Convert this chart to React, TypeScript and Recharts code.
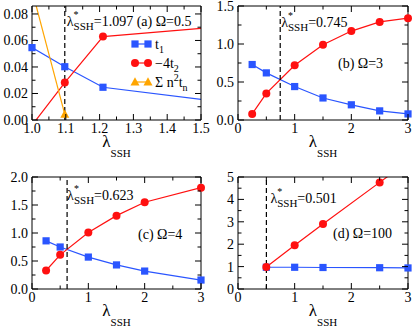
import React from 'react';
import { ComposedChart, Line, Scatter, XAxis, YAxis, ReferenceLine, Legend } from 'recharts';

const SERIF = "'Liberation Serif', 'Times New Roman', Times, serif";
const TXT = { fontFamily: SERIF };
const BLUE = '#2a55ff';
const RED = '#ff1010';
const ORANGE = '#ffa500';

// (a) Omega = 0.5
const aLam = [1.0, 1.097, 1.21, 2.0];
const aT1 = [0.0546, 0.0402, 0.0247, 0.0];
const aM4T2 = [-0.004, 0.0282, 0.0629, 0.08];
const aSumLam = [1.0, 1.097];
const aSum = [0.098, 0.0043];

// (b) Omega = 3
const bLam = [0.25, 0.5, 1, 1.5, 2, 2.5, 3];
const bT1 = [0.73, 0.62, 0.44, 0.29, 0.2, 0.12, 0.08];
const bM4T2 = [0.08, 0.35, 0.72, 0.99, 1.17, 1.29, 1.34];

// (c) Omega = 4
const cLam = [0.25, 0.5, 1, 1.5, 2, 3];
const cT1 = [0.86, 0.75, 0.57, 0.43, 0.32, 0.16];
const cM4T2 = [0.33, 0.61, 1.01, 1.31, 1.55, 1.81];

// (d) Omega = 100
const dLam = [0.5, 1, 1.5, 2.5, 3];
const dT1 = [0.97, 0.97, 0.96, 0.95, 0.94];
const dM4T2 = [0.98, 1.95, 2.9, 4.76, 5.69];

const lamStar = [1.097, 0.745, 0.623, 0.501];
const panelTags = ['(a)', '(b)', '(c)', '(d)'];
const omegas = ['0.5', '3', '4', '100'];

// ticks
const aXMajor = [1.0, 1.1, 1.2, 1.3, 1.4, 1.5];
const aXLabels = ['1.0', '1.1', '1.2', '1.3', '1.4', '1.5'];
const aXMinor = [1.05, 1.15, 1.25, 1.35, 1.45];
const aYMajor = [0, 0.02, 0.04, 0.06, 0.08];
const aYLabels = ['0.00', '0.02', '0.04', '0.06', '0.08'];
const aYMinor = [0.01, 0.03, 0.05, 0.07];
const lamMajor = [0, 1, 2, 3];
const lamLabels = ['0', '1', '2', '3'];
const lamMinor = [0.5, 1.5, 2.5];
const bYMajor = [0, 0.5, 1, 1.5];
const bYLabels = ['0.0', '0.5', '1.0', '1.5'];
const bYMinor = [0.25, 0.75, 1.25];
const cYMajor = [0, 0.5, 1, 1.5, 2];
const cYLabels = ['0.0', '0.5', '1.0', '1.5', '2.0'];
const cYMinor = [0.25, 0.75, 1.25, 1.75];
const dYMajor = [0, 1, 2, 3, 4, 5];
const dYLabels = ['0', '1', '2', '3', '4', '5'];
const dYMinor = [0.5, 1.5, 2.5, 3.5, 4.5];

type Mark = 'square' | 'circle' | 'triangle';
interface Series { name: string; xs: number[]; ys: number[]; color: string; mark: Mark }
interface Ax { domain: [number, number]; major: number[]; labels: string[]; minor: number[] }

const AXIS_LINE = { stroke: '#000', strokeWidth: 1 };
const legendOrder = ['t1', 'm4t2', 'sum'];

function markShape(mark: Mark, color: string, cx: number, cy: number) {
  if (mark === 'square') return <rect x={cx - 3.6} y={cy - 3.6} width={7.2} height={7.2} fill={color} />;
  if (mark === 'circle') return <circle cx={cx} cy={cy} r={4} fill={color} />;
  return <polygon points={`${cx},${cy - 4.8} ${cx - 4.5},${cy + 3.4} ${cx + 4.5},${cy + 3.4}`} fill={color} />;
}

function tickRenderer(side: string, ax: Ax, withLabels: boolean) {
  return (p: any) => {
    const v = p.payload.value;
    const i = ax.major.findIndex((m) => Math.abs(m - v) < 1e-9);
    const len = i >= 0 ? 6 : 3.5;
    const { x, y } = p;
    let l;
    if (side === 'bottom') l = { x1: x, y1: y, x2: x, y2: y - len };
    else if (side === 'top') l = { x1: x, y1: y, x2: x, y2: y + len };
    else if (side === 'left') l = { x1: x, y1: y, x2: x + len, y2: y };
    else l = { x1: x, y1: y, x2: x - len, y2: y };
    return (
      <g>
        <line {...l} stroke="#000" strokeWidth={1} />
        {withLabels && i >= 0 && side === 'bottom' && (
          <text x={x} y={y + 13} textAnchor="middle" style={TXT} fontSize={14} fill="#000">
            {ax.labels[i]}
          </text>
        )}
        {withLabels && i >= 0 && side === 'left' && (
          <text x={x - 4} y={y} dy="0.35em" textAnchor="end" style={TXT} fontSize={14} fill="#000">
            {ax.labels[i]}
          </text>
        )}
      </g>
    );
  };
}

function XTitle(props: any) {
  const vb = props.viewBox;
  return (
    <text x={vb.x + vb.width / 2} y={vb.y + 27} textAnchor="middle" style={TXT} fontSize={17} fill="#000">
      <tspan>λ</tspan>
      <tspan fontSize={11} dy={10}>SSH</tspan>
    </text>
  );
}

function Note(props: any) {
  const { viewBox, dx, dy, idx, tagAt } = props;
  const x0 = viewBox.x + dx;
  const y0 = viewBox.y + dy;
  const tag = `${panelTags[idx]} Ω=${omegas[idx]}`;
  return (
    <g>
      <text x={x0} y={y0} style={TXT} fontSize={14} fill="#000">
        <tspan>λ</tspan>
        <tspan fontSize={10} dy={-8}>*</tspan>
        <tspan fontSize={11} dx={-5} dy={12}>SSH</tspan>
        <tspan dy={-4}>={lamStar[idx].toFixed(3)}{tagAt ? '' : ` ${tag}`}</tspan>
      </text>
      {tagAt && (
        <text x={tagAt[0]} y={tagAt[1]} style={TXT} fontSize={14} fill="#000">{tag}</text>
      )}
    </g>
  );
}

const legendText: Record<string, React.ReactNode> = {
  t1: (
    <>
      <tspan>t</tspan>
      <tspan fontSize={10} dy={4}>1</tspan>
    </>
  ),
  m4t2: (
    <>
      <tspan>−4t</tspan>
      <tspan fontSize={10} dy={4}>2</tspan>
    </>
  ),
  sum: (
    <>
      <tspan>Σ n</tspan>
      <tspan fontSize={10} dy={-6}>2</tspan>
      <tspan dy={6}>t</tspan>
      <tspan fontSize={10} dy={4}>n</tspan>
    </>
  ),
};

function LegendBox(props: any) {
  const items = (props.payload || [])
    .filter((e: any) => e.type !== 'none' && legendText[e.value])
    .sort((a: any, b: any) => legendOrder.indexOf(a.value) - legendOrder.indexOf(b.value));
  const marks: Record<string, Mark> = { t1: 'square', m4t2: 'circle', sum: 'triangle' };
  return (
    <svg width={85} height={62} style={{ overflow: 'visible', display: 'block' }}>
      {items.map((e: any, i: number) => {
        const cy = 10 + i * 19;
        return (
          <g key={e.value}>
            <line x1={3} x2={20} y1={cy} y2={cy} stroke={e.color} strokeWidth={1.2} />
            {markShape(marks[e.value], e.color, 5, cy)}
            {markShape(marks[e.value], e.color, 18, cy)}
            <text x={25} y={cy + 5} style={TXT} fontSize={14} fill="#000">
              {legendText[e.value]}
            </text>
          </g>
        );
      })}
    </svg>
  );
}

const rowsOf = (s: Series) => s.xs.map((x, i) => ({ x, y: s.ys[i] }));
const inside = (rows: { x: number; y: number }[], xd: number[], yd: number[]) =>
  rows.filter((r) => r.x >= xd[0] - 1e-9 && r.x <= xd[1] + 1e-9 && r.y >= yd[0] - 1e-9 && r.y <= yd[1] + 1e-9);

interface PanelProps {
  idx: number;
  pos: [number, number];
  width: number;
  plot: { top: number; right: number; bottom: number; left: number };
  x: Ax;
  y: Ax;
  series: Series[];
  note: [number, number];
  tagAt?: [number, number];
  legend?: boolean;
}

function Panel({ idx, pos, width, plot, x, y, series, note, tagAt, legend }: PanelProps) {
  const xTicks = [...x.major, ...x.minor];
  const yTicks = [...y.major, ...y.minor];
  // each visible axis takes 1px, so trim it off the margins
  const margin = { top: plot.top - 1, right: plot.right - 1, bottom: plot.bottom - 1, left: plot.left - 1 };
  return (
    <div style={{ position: 'absolute', left: pos[0], top: pos[1] }}>
      <ComposedChart width={width} height={165} margin={margin}>
        <XAxis xAxisId="x" type="number" dataKey="x" domain={x.domain} allowDataOverflow ticks={xTicks} interval={0}
          tickSize={0} tickMargin={0} tickLine={false} axisLine={AXIS_LINE} height={1}
          tick={tickRenderer('bottom', x, true)} label={<XTitle />} />
        <XAxis xAxisId="top" orientation="top" type="number" dataKey="x" domain={x.domain} allowDataOverflow ticks={xTicks}
          interval={0} tickSize={0} tickMargin={0} tickLine={false} axisLine={AXIS_LINE} height={1}
          tick={tickRenderer('top', x, false)} />
        <XAxis xAxisId="zs" orientation="top" type="number" dataKey="x" domain={x.domain} hide height={0} />
        <YAxis yAxisId="y" type="number" domain={y.domain} allowDataOverflow ticks={yTicks} interval={0}
          tickSize={0} tickMargin={0} tickLine={false} axisLine={AXIS_LINE} width={1}
          tick={tickRenderer('left', y, true)} />
        <YAxis yAxisId="r" orientation="right" type="number" domain={y.domain} allowDataOverflow ticks={yTicks}
          interval={0} tickSize={0} tickMargin={0} tickLine={false} axisLine={AXIS_LINE} width={1}
          tick={tickRenderer('right', y, false)} />
        <YAxis yAxisId="zs" orientation="right" type="number" domain={y.domain} hide width={0} />
        {series.map((s) => (
          <Line key={`l-${s.name}`} xAxisId="x" yAxisId="y" data={rowsOf(s)} dataKey="y" name={s.name}
            stroke={s.color} strokeWidth={1.2} dot={false} activeDot={false} isAnimationActive={false} />
        ))}
        <ReferenceLine xAxisId="x" yAxisId="y" x={lamStar[idx]} stroke="#000" strokeWidth={1.2} strokeDasharray="5 3"
          label={<Note dx={note[0]} dy={note[1]} idx={idx} tagAt={tagAt} />} />
        {series.map((s) => (
          <Scatter key={`s-${s.name}`} xAxisId="zs" yAxisId="zs" data={inside(rowsOf(s), x.domain, y.domain)} dataKey="y"
            legendType="none" isAnimationActive={false}
            shape={(p: any) => markShape(s.mark, s.color, p.cx, p.cy)} />
        ))}
        {legend && (
          <Legend layout="vertical" align="center" verticalAlign="middle" content={<LegendBox />}
            wrapperStyle={{ left: 130, top: 34, width: 85, height: 62 }} />
        )}
      </ComposedChart>
    </div>
  );
}

const lamAx: Ax = { domain: [0, 3], major: lamMajor, labels: lamLabels, minor: lamMinor };

export default function App() {
  return (
    <div style={{ position: 'absolute', left: 0, top: 0, width: 415, height: 330, background: '#fff', fontFamily: SERIF }}>
      <style>{'.recharts-surface{overflow:visible}'}</style>
      <Panel idx={0} pos={[0, 0]} width={207} plot={{ top: 6, right: 6, bottom: 45, left: 32 }}
        x={{ domain: [1.0, 1.5], major: aXMajor, labels: aXLabels, minor: aXMinor }}
        y={{ domain: [0, 0.086], major: aYMajor, labels: aYLabels, minor: aYMinor }}
        series={[
          { name: 't1', xs: aLam, ys: aT1, color: BLUE, mark: 'square' },
          { name: 'm4t2', xs: aLam, ys: aM4T2, color: RED, mark: 'circle' },
          { name: 'sum', xs: aSumLam, ys: aSum, color: ORANGE, mark: 'triangle' },
        ]}
        note={[2, 20]} legend />
      <Panel idx={1} pos={[207, 0]} width={208} plot={{ top: 6, right: 7, bottom: 45, left: 31 }}
        x={lamAx} y={{ domain: [0, 1.5], major: bYMajor, labels: bYLabels, minor: bYMinor }}
        series={[
          { name: 't1', xs: bLam, ys: bT1, color: BLUE, mark: 'square' },
          { name: 'm4t2', xs: bLam, ys: bM4T2, color: RED, mark: 'circle' },
        ]}
        note={[1, 20.5]} tagAt={[131, 68]} />
      <Panel idx={2} pos={[0, 165]} width={207} plot={{ top: 12, right: 6, bottom: 41, left: 32 }}
        x={lamAx} y={{ domain: [0, 2], major: cYMajor, labels: cYLabels, minor: cYMinor }}
        series={[
          { name: 't1', xs: cLam, ys: cT1, color: BLUE, mark: 'square' },
          { name: 'm4t2', xs: cLam, ys: cM4T2, color: RED, mark: 'circle' },
        ]}
        note={[0, 23]} tagAt={[138, 74]} />
      <Panel idx={3} pos={[207, 165]} width={208} plot={{ top: 12, right: 7, bottom: 41, left: 31 }}
        x={lamAx} y={{ domain: [0, 5], major: dYMajor, labels: dYLabels, minor: dYMinor }}
        series={[
          { name: 't1', xs: dLam, ys: dT1, color: BLUE, mark: 'square' },
          { name: 'm4t2', xs: dLam, ys: dM4T2, color: RED, mark: 'circle' },
        ]}
        note={[4, 26]} tagAt={[126, 73]} />
    </div>
  );
}
